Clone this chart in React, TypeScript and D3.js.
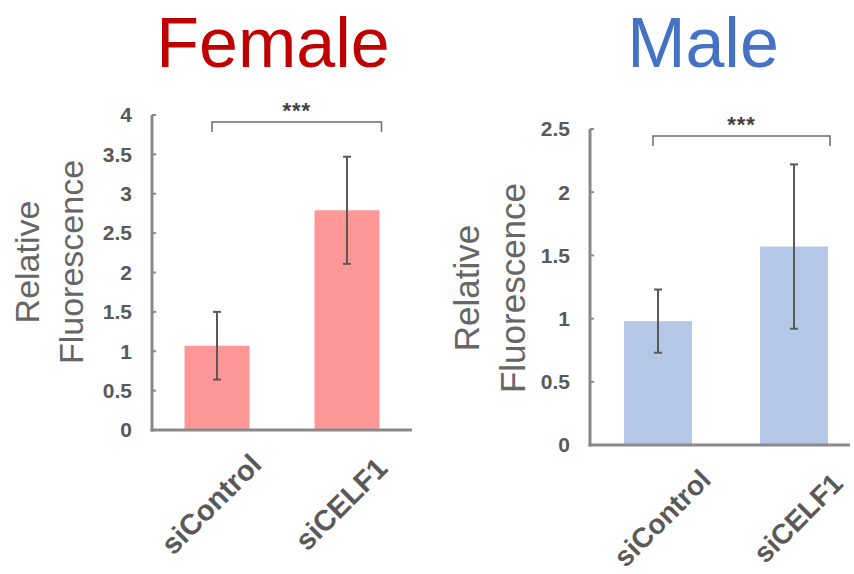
import React from 'react';
import * as d3 from 'd3';

const categories = ['siControl', 'siCELF1'];
const femaleMeans = [1.07, 2.79];
const femaleSd = [0.43, 0.68];
const maleMeans = [0.98, 1.57];
const maleSd = [0.25, 0.65];
const femaleTicks = [0, 0.5, 1, 1.5, 2, 2.5, 3, 3.5, 4];
const maleTicks = [0, 0.5, 1, 1.5, 2, 2.5];

const FONT = '"Liberation Sans", Arial, sans-serif';
const AXIS = '#898989';
const TEXT = '#595959';

type PanelProps = {
  title: string;
  titleColor: string;
  titleX: number;
  means: number[];
  sd: number[];
  ticks: number[];
  barColor: string;
  left: number;
  right: number;
  top: number;
  bottom: number;
  axisEnd: number;
  yTitleX: number;
  yTitleY: number;
  yTitleSize: number;
  labelDx: number;
  labelDy: number;
  labelSize: number;
};

const Panel = (p: PanelProps) => {
  const yMax = p.ticks[p.ticks.length - 1];
  const y = d3.scaleLinear().domain([0, yMax]).range([p.bottom, p.top]);
  const x = d3.scaleBand<string>().domain(categories).range([p.left, p.right])
    .paddingInner(0.5).paddingOuter(0.25);
  const bw = x.bandwidth();
  const bL = (x(categories[0]) as number) + bw / 2 - 5;
  const bR = (x(categories[1]) as number) + bw + 2;
  const bracketY = y(yMax) + 7;

  return (
    <g>
      <text x={p.titleX} y={67} textAnchor="middle" fontFamily={FONT} fontSize={70}
        fill={p.titleColor}>{p.title}</text>

      {/* y axis title */}
      <g transform={`translate(${p.yTitleX}, ${p.yTitleY}) rotate(-90)`}>
        <text x={0} y={0} textAnchor="middle" fontFamily={FONT} fontSize={p.yTitleSize} fill="#666">Relative</text>
        <text x={0} y={p.yTitleSize * 1.3} textAnchor="middle" fontFamily={FONT} fontSize={p.yTitleSize} fill="#666">Fluorescence</text>
      </g>

      {/* bars */}
      {categories.map((c, i) => (
        <rect key={c} x={x(c)} y={y(p.means[i])} width={bw} height={p.bottom - y(p.means[i])}
          fill={p.barColor} />
      ))}

      {/* error bars */}
      {categories.map((c, i) => {
        const cx = (x(c) as number) + bw / 2;
        const hi = y(p.means[i] + p.sd[i]);
        const lo = y(p.means[i] - p.sd[i]);
        return (
          <g key={c} stroke="#595959" strokeWidth={2}>
            <line x1={cx} x2={cx} y1={hi} y2={lo} />
            <line x1={cx - 4} x2={cx + 4} y1={hi} y2={hi} />
            <line x1={cx - 4} x2={cx + 4} y1={lo} y2={lo} />
          </g>
        );
      })}

      {/* axes */}
      <line x1={p.left} x2={p.left} y1={p.top} y2={p.bottom + 1.5} stroke={AXIS} strokeWidth={3} />
      <line x1={p.left - 1.5} x2={p.axisEnd} y1={p.bottom} y2={p.bottom} stroke={AXIS} strokeWidth={3} />
      {p.ticks.map(t => (
        <g key={t}>
          <line x1={p.left} x2={p.left + 4} y1={y(t)} y2={y(t)} stroke={AXIS} strokeWidth={2} />
          <text x={p.left - 20} y={y(t)} dy="0.35em" textAnchor="end" fontFamily={FONT}
            fontWeight="bold" fontSize={21} fill={TEXT}>{t}</text>
        </g>
      ))}

      {/* category labels */}
      {categories.map(c => (
        <text key={c} transform={`translate(${(x(c) as number) + bw / 2 + p.labelDx}, ${p.bottom + p.labelDy}) rotate(-45)`}
          textAnchor="middle" dy="0.35em" fontFamily={FONT} fontWeight="bold" fontSize={p.labelSize}
          fill={TEXT}>{c}</text>
      ))}

      {/* significance bracket */}
      <path d={`M${bL},${bracketY + 10} V${bracketY} H${bR} V${bracketY + 10}`}
        fill="none" stroke="#6b6b6b" strokeWidth={1.5} />
      <text x={(bL + bR) / 2} y={bracketY - 4} textAnchor="middle" fontFamily={FONT}
        fontWeight="bold" fontSize={22} letterSpacing={1} fill="#404040">***</text>
    </g>
  );
};

export default function App() {
  return (
    <svg width={854} height={574} style={{ position: 'absolute', left: 0, top: 0, background: '#fff' }}>
      <rect width={854} height={574} fill="#fff" />
      <Panel title="Female" titleColor="#C00000" titleX={273} means={femaleMeans} sd={femaleSd}
        ticks={femaleTicks} barColor="#FF9797" left={152} right={412} top={115} bottom={430}
        axisEnd={412} yTitleX={39} yTitleY={262} yTitleSize={34} labelDx={-6} labelDy={74} labelSize={29} />
      <Panel title="Male" titleColor="#4472C4" titleX={703} means={maleMeans} sd={maleSd}
        ticks={maleTicks} barColor="#B4C7E7" left={590} right={862} top={129} bottom={445}
        axisEnd={850} yTitleX={479} yTitleY={288} yTitleSize={35} labelDx={4} labelDy={73} labelSize={28} />
    </svg>
  );
}
